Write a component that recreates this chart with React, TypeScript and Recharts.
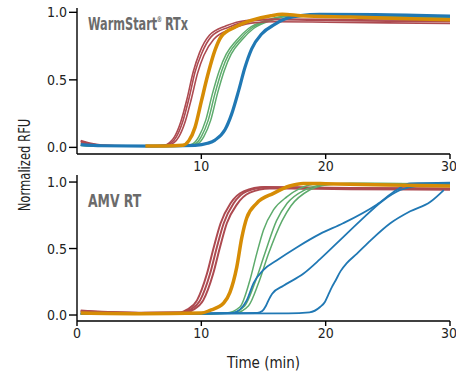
import React from 'react';
import { LineChart, Line, XAxis, YAxis } from 'recharts';

type Pt = [number, number];

// time (min), normalized RFU
const topRedA: Pt[] = [[0.3, 0.05], [1, 0.032], [2, 0.017], [4, 0.011], [6, 0.011], [7, 0.016], [7.45, 0.035], [7.85, 0.08], [8.35, 0.19], [8.85, 0.36], [9.35, 0.56], [9.85, 0.7], [10.65, 0.83], [12, 0.9], [13.6, 0.94], [16, 0.95], [20, 0.948], [25, 0.943], [30, 0.94]];
const topRedB: Pt[] = [[0.3, 0.045], [1, 0.028], [2, 0.015], [4, 0.01], [6, 0.01], [7, 0.014], [7.6, 0.035], [8.0, 0.08], [8.5, 0.19], [9.0, 0.36], [9.5, 0.56], [10.0, 0.69], [10.8, 0.82], [12.2, 0.89], [13.8, 0.935], [16, 0.945], [20, 0.94], [25, 0.935], [30, 0.93]];
const topRedC: Pt[] = [[0.3, 0.035], [1, 0.022], [2, 0.012], [4, 0.009], [6, 0.009], [7.2, 0.013], [7.8, 0.035], [8.2, 0.08], [8.7, 0.19], [9.2, 0.36], [9.7, 0.55], [10.2, 0.68], [11.0, 0.8], [12.4, 0.875], [14, 0.92], [16, 0.93], [20, 0.927], [25, 0.922], [30, 0.917]];
const topOrange: Pt[] = [[5.5, 0.01], [7, 0.01], [8.5, 0.016], [9.0, 0.05], [9.5, 0.15], [10.0, 0.34], [10.5, 0.53], [11.1, 0.72], [11.6, 0.82], [12.7, 0.89], [14.0, 0.94], [15.6, 0.975], [16.5, 0.985], [18, 0.975], [22, 0.965], [26, 0.955], [30, 0.945]];
const topGreenA: Pt[] = [[0.3, 0.015], [2, 0.008], [6, 0.008], [8.8, 0.012], [9.3, 0.025], [9.8, 0.08], [10.35, 0.2], [10.9, 0.4], [11.45, 0.57], [12.0, 0.69], [12.8, 0.79], [13.8, 0.88], [15.2, 0.94], [16.5, 0.97], [19, 0.98], [24, 0.974], [30, 0.964]];
const topGreenB: Pt[] = [[0.3, 0.015], [2, 0.008], [6, 0.008], [9.0, 0.012], [9.5, 0.025], [10.0, 0.08], [10.55, 0.2], [11.1, 0.4], [11.65, 0.57], [12.2, 0.69], [13.0, 0.79], [14.0, 0.88], [15.4, 0.94], [16.7, 0.97], [19, 0.978], [24, 0.972], [30, 0.962]];
const topGreenC: Pt[] = [[0.3, 0.015], [2, 0.008], [6, 0.008], [9.2, 0.012], [9.7, 0.025], [10.2, 0.08], [10.75, 0.2], [11.3, 0.4], [11.85, 0.57], [12.4, 0.69], [13.2, 0.79], [14.2, 0.88], [15.6, 0.94], [16.9, 0.97], [19, 0.976], [24, 0.97], [30, 0.96]];
const topBlue: Pt[] = [[0.3, 0.02], [2, 0.012], [6, 0.01], [9.5, 0.015], [10.5, 0.03], [11.1, 0.054], [11.9, 0.13], [12.45, 0.25], [13.0, 0.42], [13.5, 0.59], [14.05, 0.73], [14.85, 0.84], [15.9, 0.91], [16.7, 0.95], [18, 0.975], [19.5, 0.985], [24, 0.983], [30, 0.972]];

const amvRedA: Pt[] = [[0.3, 0.034], [2, 0.024], [5, 0.017], [8.3, 0.019], [8.85, 0.04], [9.65, 0.11], [10.45, 0.31], [11.0, 0.51], [11.55, 0.69], [12.35, 0.84], [13.4, 0.93], [15.1, 0.963], [18, 0.96], [22, 0.956], [30, 0.952]];
const amvRedB: Pt[] = [[0.3, 0.03], [2, 0.022], [5, 0.016], [8.5, 0.018], [9.1, 0.04], [9.9, 0.11], [10.7, 0.31], [11.25, 0.51], [11.8, 0.69], [12.6, 0.84], [13.65, 0.93], [15.3, 0.96], [18, 0.958], [22, 0.953], [30, 0.948]];
const amvRedC: Pt[] = [[0.3, 0.026], [2, 0.02], [5, 0.015], [8.7, 0.017], [9.35, 0.04], [10.15, 0.11], [10.95, 0.31], [11.5, 0.51], [12.05, 0.69], [12.85, 0.83], [13.9, 0.92], [15.5, 0.952], [18, 0.95], [22, 0.946], [30, 0.942]];
const amvOrange: Pt[] = [[0.3, 0.015], [5, 0.01], [10, 0.015], [10.7, 0.035], [11.8, 0.09], [12.3, 0.17], [12.85, 0.36], [13.25, 0.58], [13.65, 0.73], [14.45, 0.84], [15.8, 0.915], [17.1, 0.97], [18.2, 0.99], [20, 0.988], [25, 0.978], [30, 0.97]];
const amvGreenA: Pt[] = [[0.3, 0.005], [8, 0.005], [12, 0.015], [13.1, 0.06], [13.9, 0.26], [14.45, 0.46], [15.0, 0.64], [15.8, 0.79], [16.9, 0.89], [17.9, 0.95], [19.3, 0.985], [22, 0.99], [30, 0.985]];
const amvGreenB: Pt[] = [[0.3, 0.005], [8, 0.005], [12.4, 0.015], [13.5, 0.07], [14.3, 0.24], [15.1, 0.46], [16.05, 0.71], [16.9, 0.84], [18.3, 0.94], [19.8, 0.98], [22, 0.99], [30, 0.985]];
const amvGreenC: Pt[] = [[0.3, 0.005], [8, 0.005], [12.7, 0.015], [13.8, 0.07], [14.6, 0.24], [15.4, 0.46], [16.5, 0.71], [17.2, 0.82], [18.7, 0.94], [20.2, 0.98], [22, 0.99], [30, 0.987]];
const amvBlueA: Pt[] = [[0.3, 0.012], [8, 0.01], [12.5, 0.015], [13.1, 0.04], [13.65, 0.11], [14.2, 0.24], [15.0, 0.34], [16.05, 0.41], [17.7, 0.51], [19.55, 0.61], [21.4, 0.69], [24.1, 0.83], [25.7, 0.94], [26.8, 0.99], [30, 0.995]];
const amvBlueB: Pt[] = [[0.3, 0.012], [8, 0.01], [14.5, 0.015], [14.9, 0.03], [15.2, 0.07], [15.45, 0.12], [15.7, 0.16], [16.6, 0.22], [18.2, 0.31], [19.55, 0.42], [20.9, 0.54], [22.8, 0.71], [24.6, 0.86], [26.0, 0.94], [27.3, 0.97], [30, 0.985]];
const amvBlueC: Pt[] = [[0.3, 0.012], [8, 0.01], [17, 0.012], [18.7, 0.02], [19.55, 0.06], [19.95, 0.1], [20.2, 0.15], [20.5, 0.21], [20.8, 0.26], [21.2, 0.33], [21.7, 0.39], [22.5, 0.46], [23.6, 0.56], [25.2, 0.69], [26.8, 0.78], [28.4, 0.85], [29.5, 0.94]];

const topXTicks = [10, 20, 30];
const amvXTicks = [0, 10, 20, 30];
const yTicks = [0, 0.5, 1];

const RED = '#ad4a50';
const ORANGE = '#d68c05';
const GREEN = '#5dab6c';
const BLUE = '#2078b4';
const FONT = '"Liberation Sans Narrow", "DejaVu Sans Condensed", "Roboto Condensed", Arial, sans-serif';

const toData = (pts: Pt[]) => pts.map(([t, v]) => ({ t, v }));

const tickStyle = { fontSize: 14, fill: '#222', fontFamily: FONT };

function curve(pts: Pt[], color: string, width: number, key: string) {
  return (
    <Line
      key={key}
      data={toData(pts)}
      dataKey="v"
      type="monotone"
      stroke={color}
      strokeWidth={width}
      dot={false}
      activeDot={false}
      isAnimationActive={false}
    />
  );
}

function Axes({ xTicks, yDomain, xHeight, xLabel }: { xTicks: number[]; yDomain: [number, number]; xHeight: number; xLabel?: string }) {
  return [
    <XAxis
      key="x"
      dataKey="t"
      type="number"
      domain={[0, 30]}
      ticks={xTicks}
      allowDataOverflow
      height={xHeight}
      stroke="#000"
      strokeWidth={1.4}
      tickSize={5}
      tick={tickStyle}
      label={xLabel ? { value: xLabel, position: 'insideBottom', offset: 3, style: { fontSize: 15, fill: '#222', fontFamily: FONT } } : undefined}
    />,
    <YAxis
      key="y"
      type="number"
      domain={yDomain}
      ticks={yTicks}
      allowDataOverflow
      width={77}
      stroke="#000"
      strokeWidth={1.4}
      tickSize={8}
      tick={tickStyle}
      tickFormatter={(v: number) => v.toFixed(1)}
    />,
  ];
}

export default function App() {
  const title = { fontFamily: FONT, fontWeight: 'bold' as const, fontSize: 17, fill: '#6b6b6b' };
  return (
    <div style={{ position: 'absolute', left: 0, top: 0, width: 456, height: 375, background: '#fff' }}>
      <div style={{ position: 'absolute', left: 0, top: 0 }}>
        <LineChart width={456} height={180} margin={{ top: 8, right: 6, bottom: 0, left: 0 }}>
          {Axes({ xTicks: topXTicks, yDomain: [-0.049, 1.032], xHeight: 26 })}
          {curve(topGreenA, GREEN, 1.5, 'g1')}
          {curve(topGreenB, GREEN, 1.5, 'g2')}
          {curve(topGreenC, GREEN, 1.5, 'g3')}
          {curve(topRedA, RED, 1.6, 'r1')}
          {curve(topRedB, RED, 1.6, 'r2')}
          {curve(topRedC, RED, 1.6, 'r3')}
          {curve(topBlue, BLUE, 3.2, 'b')}
          {curve(topOrange, ORANGE, 3.5, 'o')}
        </LineChart>
      </div>
      <div style={{ position: 'absolute', left: 0, top: 170 }}>
        <LineChart width={456} height={201} margin={{ top: 5, right: 6, bottom: 0, left: 0 }}>
          {Axes({ xTicks: amvXTicks, yDomain: [-0.045, 1.053], xHeight: 50, xLabel: 'Time (min)' })}
          {curve(amvRedA, RED, 2, 'r1')}
          {curve(amvRedB, RED, 2, 'r2')}
          {curve(amvRedC, RED, 2, 'r3')}
          {curve(amvGreenA, GREEN, 1.5, 'g1')}
          {curve(amvGreenB, GREEN, 1.5, 'g2')}
          {curve(amvGreenC, GREEN, 1.5, 'g3')}
          {curve(amvBlueA, BLUE, 1.8, 'b1')}
          {curve(amvBlueB, BLUE, 1.8, 'b2')}
          {curve(amvBlueC, BLUE, 1.8, 'b3')}
          {curve(amvOrange, ORANGE, 3.5, 'o')}
        </LineChart>
      </div>
      <svg width={456} height={375} style={{ position: 'absolute', left: 0, top: 0, pointerEvents: 'none' }}>
        {/* condensed look: squeeze the text horizontally */}
        <g transform="translate(88 30) scale(0.74 1)">
          <text x={0} y={0} {...title}>WarmStart</text>
          <text x={93} y={-8} {...title} fontSize={8}>®</text>
          <text x={104} y={0} {...title}>RTx</text>
        </g>
        <g transform="translate(88 207) scale(0.81 1)">
          <text x={0} y={0} {...title}>AMV RT</text>
        </g>
        <g transform="translate(25 165) rotate(-90) scale(0.86 1)">
          <text x={0} y={0} textAnchor="middle" dominantBaseline="central" fontFamily={FONT} fontSize={15} fill="#222">
            Normalized RFU
          </text>
        </g>
      </svg>
    </div>
  );
}
